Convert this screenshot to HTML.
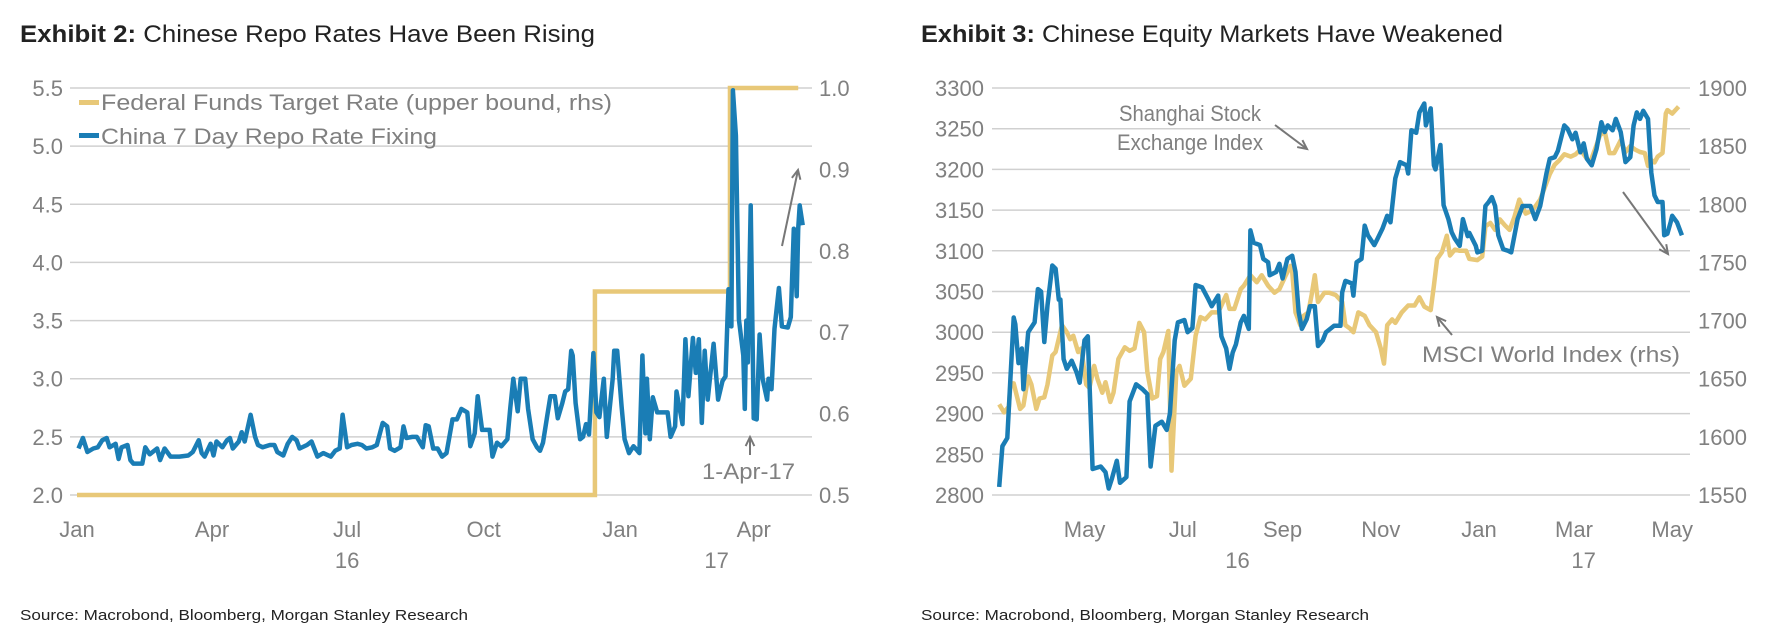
<!DOCTYPE html>
<html><head><meta charset="utf-8"><style>
html,body{margin:0;padding:0;background:#fff;}
svg{display:block;font-family:"Liberation Sans",sans-serif;}
.ax{fill:#808080;font-size:22px;}
</style></head><body>
<svg id="svg" width="1767" height="641" viewBox="0 0 1767 641" xmlns="http://www.w3.org/2000/svg">
<g><text x="20" y="42" font-size="24" fill="#222" textLength="575" lengthAdjust="spacingAndGlyphs"><tspan font-weight="bold">Exhibit 2:</tspan>  Chinese Repo Rates Have Been Rising</text></g>
<g><text x="921" y="42" font-size="24" fill="#222" textLength="582" lengthAdjust="spacingAndGlyphs"><tspan font-weight="bold">Exhibit 3:</tspan>  Chinese Equity Markets Have Weakened</text></g>
<text x="20" y="620" font-size="15" fill="#222" textLength="448" lengthAdjust="spacingAndGlyphs">Source: Macrobond, Bloomberg, Morgan Stanley Research</text>
<text x="921" y="620" font-size="15" fill="#222" textLength="448" lengthAdjust="spacingAndGlyphs">Source: Macrobond, Bloomberg, Morgan Stanley Research</text>
<g id="left"></g>
<g id="right"></g>
</svg>
<script>
// ---------- Exhibit 2 data ----------
const repoDays=[1,4,7,11,14,17,20,22,26,28,30,34,36,38,44,46,49,54,56,59,63,69,75,78,82,84,86,90,92,94,98,101,103,105,109,111,113,117,120,122,125,130,133,135,139,142,145,148,150,155,158,162,166,171,174,177,179,182,185,189,192,195,199,202,206,209,211,214,218,220,222,226,229,233,235,237,240,243,246,249,253,256,259,263,265,268,270,273,278,280,283,286,290,292,294,297,299,302,304,307,310,312,314,317,319,322,324,327,329,331,333,334,336,339,341,343,345,348,350,352,355,357,361,362,364,367,369,372,375,377,379,381,383,384,386,388,391,398,400,403,404,408,410,412,415,417,419,421,423,425,429,432,435,437,439,441,442,444,446,449,450,451,452,454,456,458,460,462,465,466,468,470,473,475,479,481,483,485,486,487,489];
const repoRate=[2.40,2.49,2.37,2.40,2.41,2.47,2.49,2.41,2.44,2.31,2.41,2.43,2.30,2.27,2.27,2.41,2.35,2.40,2.30,2.40,2.33,2.33,2.34,2.37,2.47,2.36,2.33,2.44,2.34,2.46,2.41,2.47,2.49,2.40,2.46,2.54,2.46,2.69,2.50,2.43,2.41,2.43,2.43,2.37,2.34,2.44,2.50,2.47,2.40,2.43,2.46,2.33,2.36,2.33,2.38,2.40,2.69,2.41,2.43,2.44,2.43,2.40,2.41,2.43,2.62,2.59,2.40,2.38,2.41,2.59,2.49,2.50,2.50,2.41,2.60,2.59,2.40,2.40,2.33,2.36,2.65,2.65,2.74,2.71,2.42,2.53,2.85,2.56,2.56,2.33,2.45,2.42,2.48,2.75,3.0,2.72,3.0,3.0,2.74,2.48,2.41,2.38,2.45,2.69,2.85,2.85,2.66,2.79,2.89,2.91,3.24,3.2,2.79,2.48,2.5,2.61,2.52,3.22,2.71,2.67,3.0,2.5,3.0,3.24,3.24,2.76,2.48,2.36,2.42,2.39,2.36,3.2,2.53,3.0,2.48,2.84,2.71,2.71,2.5,2.59,2.89,2.61,3.34,2.85,3.35,3.05,3.34,2.62,3.24,2.82,3.3,2.82,2.98,3.02,3.77,3.45,5.48,5.09,3.51,3.2,2.74,3.5,3.14,4.49,2.66,2.65,3.38,3.0,2.82,3.0,2.91,3.43,3.78,3.45,3.44,3.53,4.29,3.71,4.29,4.49,4.32];
const fedDays=[0,349,440,486];
const fedRate=[0.5,0.75,1.0,1.0];
const leftTicks=[2.0,2.5,3.0,3.5,4.0,4.5,5.0,5.5];
const rightTicks=[0.5,0.6,0.7,0.8,0.9,1.0];
const leftMonths=["Jan","Apr","Jul","Oct","Jan","Apr"];
const leftMonthDays=[0,91,182,274,366,456];
// ---------- Exhibit 3 data ----------
const shDays=[-298,-296,-293,-291,-289,-288,-286,-284,-283,-280,-276,-274,-272,-270,-268,-265,-263,-261,-260,-258,-256,-253,-250,-248,-245,-243,-240,-235,-232,-230,-228,-225,-223,-219,-217,-213,-209,-206,-204,-201,-197,-194,-192,-189,-187,-183,-181,-178,-176,-172,-168,-166,-162,-161,-160,-157,-155,-153,-151,-148,-146,-143,-142,-140,-136,-134,-131,-130,-126,-124,-122,-119,-116,-114,-112,-110,-107,-105,-102,-100,-97,-95,-90,-86,-85,-83,-79,-78,-76,-73,-71,-69,-65,-63,-60,-57,-55,-52,-49,-45,-44,-42,-39,-37,-34,-33,-30,-28,-27,-24,-22,-19,-17,-15,-12,-10,-7,-6,-2,-1,2,4,6,8,10,12,15,18,20,24,27,32,35,38,42,44,47,49,53,55,58,60,63,65,67,70,73,76,78,80,83,85,88,91,94,96,98,100,102,105,107,109,111,114,115,117,119,120,123,126];
const shIndex=[2810,2860,2870,2945,3018,3010,2962,2980,2930,3000,3012,3053,3050,2988,3033,3082,3078,3040,3040,2967,2955,2965,2951,2938,2990,2995,2832,2835,2828,2808,2820,2842,2815,2822,2915,2936,2930,2924,2835,2885,2890,2880,2900,2990,3012,3015,3000,3005,3058,3055,3040,3032,3045,3017,2995,2980,2955,2975,2985,3012,3020,3004,3125,3110,3107,3090,3086,3070,3074,3084,3066,3090,3094,3074,3025,3004,3016,3032,3032,2983,2990,3000,3008,3008,3049,3063,3060,3045,3086,3090,3131,3119,3107,3115,3127,3143,3135,3189,3209,3205,3195,3248,3245,3270,3281,3254,3275,3205,3200,3230,3156,3139,3123,3115,3106,3139,3118,3122,3106,3098,3100,3155,3160,3166,3155,3119,3102,3100,3098,3139,3155,3155,3139,3155,3196,3213,3215,3223,3254,3250,3237,3245,3221,3232,3213,3205,3225,3258,3246,3254,3248,3262,3246,3209,3215,3254,3270,3262,3272,3262,3196,3168,3160,3160,3119,3121,3135,3143,3135,3119];
const msDays=[-298,-295,-292,-291,-289,-287,-285,-283,-280,-278,-275,-273,-270,-268,-265,-263,-259,-256,-254,-252,-249,-247,-244,-242,-239,-237,-234,-232,-229,-227,-224,-220,-217,-214,-211,-208,-206,-203,-200,-198,-196,-193,-191,-188,-186,-183,-179,-176,-173,-170,-166,-162,-160,-157,-155,-152,-148,-146,-142,-138,-135,-131,-127,-124,-120,-117,-116,-114,-111,-109,-106,-104,-102,-100,-96,-93,-89,-85,-83,-80,-78,-75,-71,-68,-64,-61,-59,-57,-54,-52,-48,-44,-40,-37,-34,-30,-28,-26,-23,-20,-18,-15,-12,-8,-6,-1,2,4,7,10,13,16,19,22,25,29,32,35,38,41,44,47,50,53,57,60,63,66,69,72,75,78,81,84,88,91,94,97,100,103,105,107,109,111,114,116,117,120,124];
const msciIndex=[1628,1621,1626,1646,1646,1635,1624,1627,1652,1645,1624,1633,1634,1645,1670,1673,1696,1690,1684,1687,1673,1676,1645,1642,1661,1650,1638,1647,1630,1638,1667,1677,1674,1676,1698,1690,1656,1633,1635,1667,1673,1691,1571,1656,1661,1644,1650,1687,1703,1701,1707,1707,1713,1722,1710,1710,1727,1730,1739,1733,1739,1730,1724,1727,1739,1747,1742,1707,1696,1704,1707,1722,1739,1716,1724,1724,1722,1716,1696,1693,1690,1707,1704,1696,1690,1676,1663,1696,1701,1698,1707,1713,1713,1720,1712,1709,1730,1753,1759,1773,1756,1761,1760,1760,1753,1752,1755,1781,1784,1778,1787,1782,1778,1789,1804,1792,1794,1798,1804,1815,1826,1834,1838,1843,1841,1843,1847,1841,1836,1847,1859,1863,1844,1844,1855,1845,1850,1847,1845,1844,1833,1838,1836,1841,1844,1878,1881,1878,1884];
const shTicks=[2800,2850,2900,2950,3000,3050,3100,3150,3200,3250,3300];
const msTicks=[1550,1600,1650,1700,1750,1800,1850,1900];
const rMonths=["May","Jul","Sep","Nov","Jan","Mar","May"];
const rMonthDays=[-245,-184,-122,-61,0,59,120];

const NS="http://www.w3.org/2000/svg";
function mk(parent,tag,attrs,txt){const e=document.createElementNS(NS,tag);for(const k in attrs)e.setAttribute(k,attrs[k]);if(txt!==undefined)e.textContent=txt;parent.appendChild(e);return e;}
const BLUE="#1a7db5",GOLD="#e8c878",GRID="#d0d0d0",GRAY="#808080";
const TOP=88,BOT=495;

// ---- left chart ----
const L=document.getElementById('left');
const lx=d=>77+d*1.484;
const ly=v=>BOT-(v-2.0)/3.5*(BOT-TOP);
const ry=v=>BOT-(v-0.5)/0.5*(BOT-TOP);
leftTicks.forEach(t=>{
  const g=mk(L,'line',{x1:70,x2:812,y1:ly(t),y2:ly(t),stroke:GRID,'stroke-width':1.5});
  
  
  const tx=mk(L,'text',{x:63,y:ly(t)+8,'text-anchor':'end',class:'ax'},t.toFixed(1));
  
  
});
rightTicks.forEach(t=>{
  const tx=mk(L,'text',{x:819,y:ry(t)+8,class:'ax'},t.toFixed(1));
  
  
});
leftMonths.forEach((m,i)=>{
  const tx=mk(L,'text',{x:lx(leftMonthDays[i]),y:537,'text-anchor':'middle',class:'ax'},m);
  
  
});
[["16",182],["17",431]].forEach(p=>{
  const tx=mk(L,'text',{x:lx(p[1]),y:568,'text-anchor':'middle',class:'ax'},p[0]);
  
  
});
let fp="";
fedDays.forEach((d,i)=>{const x=lx(d),y=ry(fedRate[i]);if(i===0)fp+=`M${x},${y}`;else fp+=`L${x},${ry(fedRate[i-1])}L${x},${y}`;});
const fedPath=mk(L,'path',{d:fp,fill:'none',stroke:GOLD,'stroke-width':4.5});


const rp=repoDays.map((d,i)=>(i?'L':'M')+lx(d).toFixed(1)+','+ly(repoRate[i]).toFixed(1)).join('');
const repoPath=mk(L,'path',{d:rp,fill:'none',stroke:BLUE,'stroke-width':4.5,'stroke-linejoin':'round'});


// legend
const lg1=mk(L,'rect',{x:79,y:100,width:20,height:5,fill:GOLD});


const lt1=mk(L,'text',{x:101,y:110,class:'ax',textLength:511,lengthAdjust:'spacingAndGlyphs'},'Federal Funds Target Rate (upper bound, rhs)');


const lg2=mk(L,'rect',{x:79,y:133,width:20,height:5,fill:BLUE});


const lt2=mk(L,'text',{x:101,y:144,class:'ax',textLength:336,lengthAdjust:'spacingAndGlyphs'},'China 7 Day Repo Rate Fixing');


// annotations
const a1=mk(L,'text',{x:702,y:479,class:'ax',textLength:93,lengthAdjust:'spacingAndGlyphs'},'1-Apr-17');


function arrow(par,x1,y1,x2,y2,name){
  const g=mk(par,'g',{stroke:'#777','stroke-width':2,fill:'none'});
  
  
  mk(g,'line',{x1:x1,y1:y1,x2:x2,y2:y2});
  const a=Math.atan2(y2-y1,x2-x1),h=10;
  mk(g,'path',{d:`M${x2-h*Math.cos(a-0.45)},${y2-h*Math.sin(a-0.45)}L${x2},${y2}L${x2-h*Math.cos(a+0.45)},${y2-h*Math.sin(a+0.45)}`});
}
arrow(L,750,455,750,437,'apr-arrow');
arrow(L,782,246,798,170,'rising-arrow');

// ---- right chart ----
const R=document.getElementById('right');
const rx=d=>1479+d*1.61;
const sy=v=>BOT-(v-2800)/500*(BOT-TOP);
const my=v=>BOT-(v-1550)/350*(BOT-TOP);
shTicks.forEach(t=>{
  const g=mk(R,'line',{x1:992,x2:1690,y1:sy(t),y2:sy(t),stroke:GRID,'stroke-width':1.5});
  
  
  const tx=mk(R,'text',{x:984,y:sy(t)+8,'text-anchor':'end',class:'ax'},String(t));
  
  
});
msTicks.forEach(t=>{
  const tx=mk(R,'text',{x:1698,y:my(t)+8,class:'ax'},String(t));
  
  
});
rMonths.forEach((m,i)=>{
  const tx=mk(R,'text',{x:rx(rMonthDays[i]),y:537,'text-anchor':'middle',class:'ax'},m);
  
  
});
[["16",-150],["17",65]].forEach(p=>{
  const tx=mk(R,'text',{x:rx(p[1]),y:568,'text-anchor':'middle',class:'ax'},p[0]);
  
  
});
const mp=msDays.map((d,i)=>(i?'L':'M')+rx(d).toFixed(1)+','+my(msciIndex[i]).toFixed(1)).join('');
const msPath=mk(R,'path',{d:mp,fill:'none',stroke:GOLD,'stroke-width':4.5,'stroke-linejoin':'round'});


const sp=shDays.map((d,i)=>(i?'L':'M')+rx(d).toFixed(1)+','+sy(shIndex[i]).toFixed(1)).join('');
const shPath=mk(R,'path',{d:sp,fill:'none',stroke:BLUE,'stroke-width':4.5,'stroke-linejoin':'round'});


const s1=mk(R,'text',{x:1190,y:121,'text-anchor':'middle',class:'ax',textLength:142,lengthAdjust:'spacingAndGlyphs'},'Shanghai Stock');


const s2=mk(R,'text',{x:1190,y:150,'text-anchor':'middle',class:'ax',textLength:146,lengthAdjust:'spacingAndGlyphs'},'Exchange Index');


const m1=mk(R,'text',{x:1422,y:362,class:'ax',textLength:258,lengthAdjust:'spacingAndGlyphs'},'MSCI World Index (rhs)');


arrow(R,1275,125,1307,149,'shanghai-arrow');
arrow(R,1452,335,1437,317,'msci-arrow');
arrow(R,1623,192,1668,254,'falling-arrow');
</script>
</body></html>
